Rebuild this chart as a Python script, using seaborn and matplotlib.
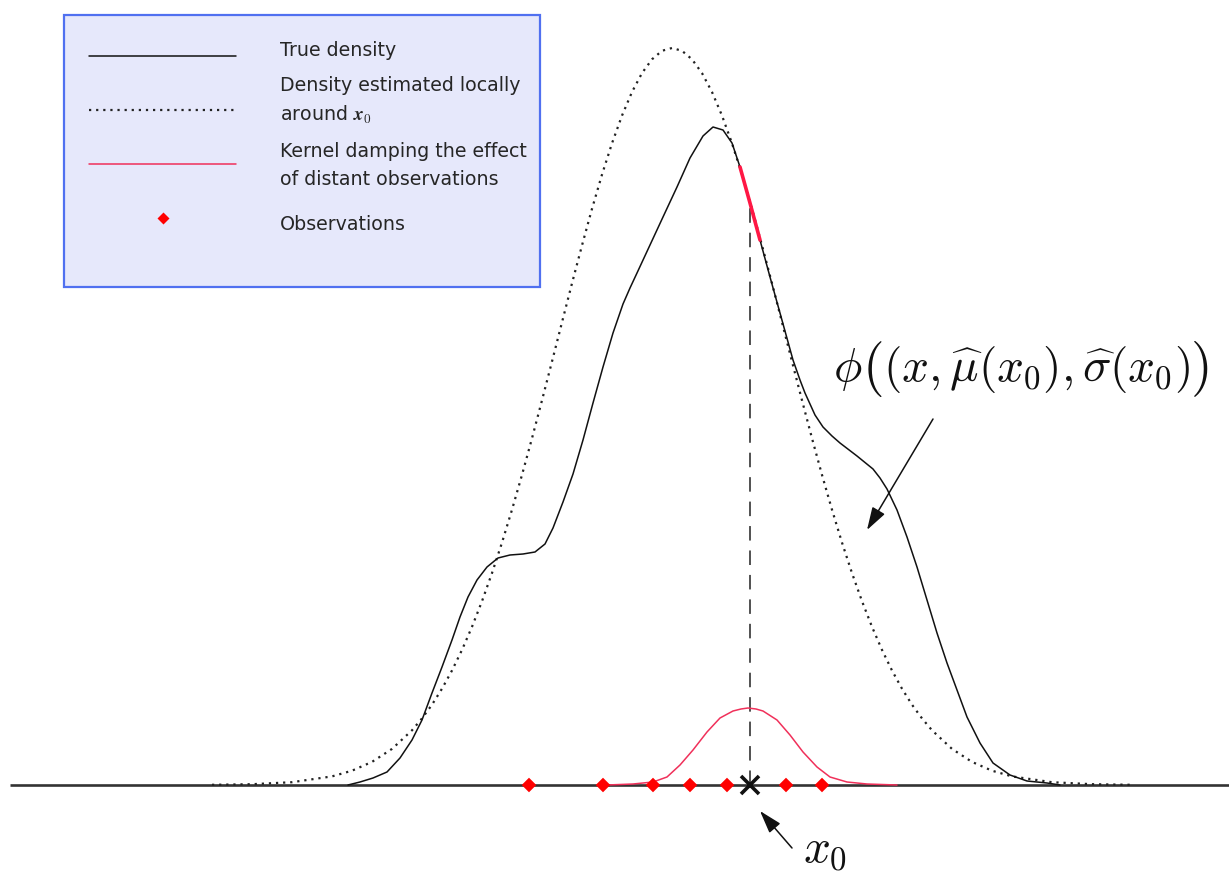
import numpy as np
import pandas as pd
import matplotlib
matplotlib.use("Agg")
import matplotlib.pyplot as plt
from matplotlib.patches import Rectangle
import seaborn as sns

# ---------------- data (x in pixels, height above baseline) -------------
true_x = [348, 360, 373, 387, 400, 412, 422, 432, 442, 452, 460, 468, 477, 487, 498, 510,
          523, 535, 545, 553, 563, 573, 583, 593, 603, 613, 623, 630, 637, 650, 663, 677,
          690, 703, 713, 723, 732, 740, 750, 760, 770, 780, 793, 800, 805, 815, 823, 832,
          840, 857, 873, 880, 887, 897, 907, 917, 927, 937, 947, 957, 967, 980, 993, 1010,
          1027, 1047, 1060]
true_y = [0, 3, 7, 13, 27, 45, 65, 92, 118, 145, 168, 188, 205, 218, 227, 230,
          231, 233, 241, 257, 283, 311, 345, 382, 418, 452, 481, 497, 512, 540, 568, 598,
          627, 649, 658, 655, 642, 618, 582, 545, 508, 472, 425, 405, 392, 370, 358, 349,
          342, 329, 316, 307, 296, 275, 248, 218, 185, 152, 122, 95, 68, 42, 22, 10,
          4, 2, 0]

local_x = [212, 252, 292, 332, 352, 372, 392, 412, 422, 432, 442, 452, 462, 472, 482, 492,
           502, 512, 522, 532, 542, 552, 562, 572, 582, 592, 602, 612, 622, 632, 642, 652,
           662, 672, 682, 692, 702, 712, 722, 732, 742, 752, 762, 772, 782, 792, 802, 812,
           822, 832, 842, 852, 862, 872, 882, 892, 902, 912, 922, 932, 952, 972, 992, 1012,
           1052, 1092, 1132]
local_y = [0.2, 0.8, 2.8, 8.6, 14.3, 23.1, 36.1, 54.7, 66.6, 80.3, 96.3, 114.5, 135.1,
           158.2, 183.8, 211.9, 242.4, 275.3, 310.1, 346.7, 384.7, 423.5, 462.7, 501.7,
           539.6, 576.2, 610.4, 641.7, 669.4, 693.0, 711.9, 725.7, 734.2, 737.0, 734.2,
           725.7, 711.9, 693.0, 669.4, 641.7, 610.4, 576.2, 539.6, 501.7, 462.7, 423.5,
           384.7, 346.7, 310.1, 275.3, 242.4, 211.9, 183.8, 158.2, 135.1, 114.5, 96.3,
           80.3, 66.6, 54.7, 36.1, 23.1, 14.3, 8.6, 2.8, 0.8, 0.2]

kernel_x = [607, 633, 653, 667, 680, 693, 707, 720, 733, 741, 748, 756, 763, 777, 790, 803,
            817, 830, 847, 867, 897]
kernel_y = [0, 1, 3, 8, 20, 35, 53, 67, 74, 76, 77, 76, 74, 65, 50, 33, 18, 8, 3, 1, 0]

obs_x = [529, 603, 653, 690, 727, 786, 822]
x0 = 750
x0_density = 582

legend_labels = ["True density",
                 "Density estimated locally\naround $\\boldsymbol{x}_\\mathbf{0}$",
                 "Kernel damping the effect\nof distant observations",
                 "Observations"]

phi_parts = [r"$\phi$", r"$($", r"$(x,\widehat{\mu}(x_0),\widehat{\sigma}(x_0)$", r"$)$"]
x0_label = r"$x_0$"

# ---------------- style ----------------
sns.set_style("white")
plt.rcParams["font.family"] = ["DejaVu Sans"]
plt.rcParams["mathtext.fontset"] = "cm"

KERNEL_C = "#f0305a"
SEG_C = "#ff1744"
DOT_LS = (0, (1, 2.2))

fig = plt.figure(figsize=(12.29, 8.72), dpi=100)
ax = fig.add_axes([0, 0, 1, 1])
ax.set_xlim(0, 1229)
ax.set_ylim(-87, 785)
ax.axis("off")

df_true = pd.DataFrame({"x": true_x, "y": true_y})
df_local = pd.DataFrame({"x": local_x, "y": local_y})
df_kernel = pd.DataFrame({"x": kernel_x, "y": kernel_y})

# baseline
ax.hlines(0, 10, 1229, color="#333333", lw=1.9, zorder=2)

sns.lineplot(data=df_local, x="x", y="y", ax=ax, color="#222222", lw=1.6,
             linestyle=DOT_LS, sort=False, zorder=3)
sns.lineplot(data=df_true, x="x", y="y", ax=ax, color="#111111", lw=1.1,
             sort=False, zorder=4)
sns.lineplot(data=df_kernel, x="x", y="y", ax=ax, color=KERNEL_C, lw=1.1,
             sort=False, zorder=4)

seg = df_true[(df_true.x >= 740) & (df_true.x <= 760)]
sns.lineplot(data=seg, x="x", y="y", ax=ax, color=SEG_C, lw=2.6, sort=False, zorder=5)

# dashed vertical line at x0
ax.vlines(x0, 0, x0_density - 3, color="#222222", lw=1.1,
          linestyles=[(0, (9.5, 6.5))], zorder=3)

# observations
sns.scatterplot(x=obs_x, y=[0] * len(obs_x), ax=ax, marker="D", s=55,
                color="#ff0000", edgecolor="none", zorder=6)
# x0 marker
ax.plot([x0], [0], marker="x", ms=13, mew=2.6, color="#111111", zorder=7)

# annotations
arrow = dict(arrowstyle="-|>,head_length=0.7,head_width=0.22", color="#111111",
             lw=1.1, mutation_scale=20, shrinkA=0, shrinkB=0)
ax.annotate("", xy=(760, -26), xytext=(792, -63), arrowprops=arrow, zorder=8)
ax.text(825, -64, x0_label, fontsize=34, ha="center", va="center", color="#111111")

ax.annotate("", xy=(867, 255), xytext=(933, 366), arrowprops=arrow, zorder=8)

# phi label assembled from pieces so the outer parentheses are larger (\big)
renderer = fig.canvas.get_renderer()
cur_x = 833
base_h = 404
for part, fs, dy in zip(phi_parts, [34, 40, 34, 40], [0, -2, 0, -2]):
    t = ax.text(cur_x, base_h + dy, part, fontsize=fs, ha="left", va="baseline",
                color="#111111")
    bb = t.get_window_extent(renderer)
    cur_x = bb.x1

# legend box
ax.add_patch(Rectangle((64, 498), 476, 272, facecolor="#e6e8fb", edgecolor="#5070f0",
                       lw=1.6, zorder=9))
hx0, hx1 = 89, 236
ax.plot([hx0, hx1], [729, 729], color="#111111", lw=1.1, zorder=10)
ax.plot([hx0, hx1], [675, 675], color="#222222", lw=1.6, linestyle=DOT_LS, zorder=10)
ax.plot([hx0, hx1], [621, 621], color=KERNEL_C, lw=1.1, zorder=10)
ax.plot([(hx0 + hx1) / 2], [567], marker="D", ms=6.5, color="#ff0000", mec="none",
        zorder=10, ls="none")
label_h = [734, 684, 619.5, 560]
for lab, yy in zip(legend_labels, label_h):
    ax.text(280, yy, lab, fontsize=13.7, ha="left", va="center", color="#262626",
            linespacing=1.55, zorder=10)

fig.savefig("out.png", dpi=100)
